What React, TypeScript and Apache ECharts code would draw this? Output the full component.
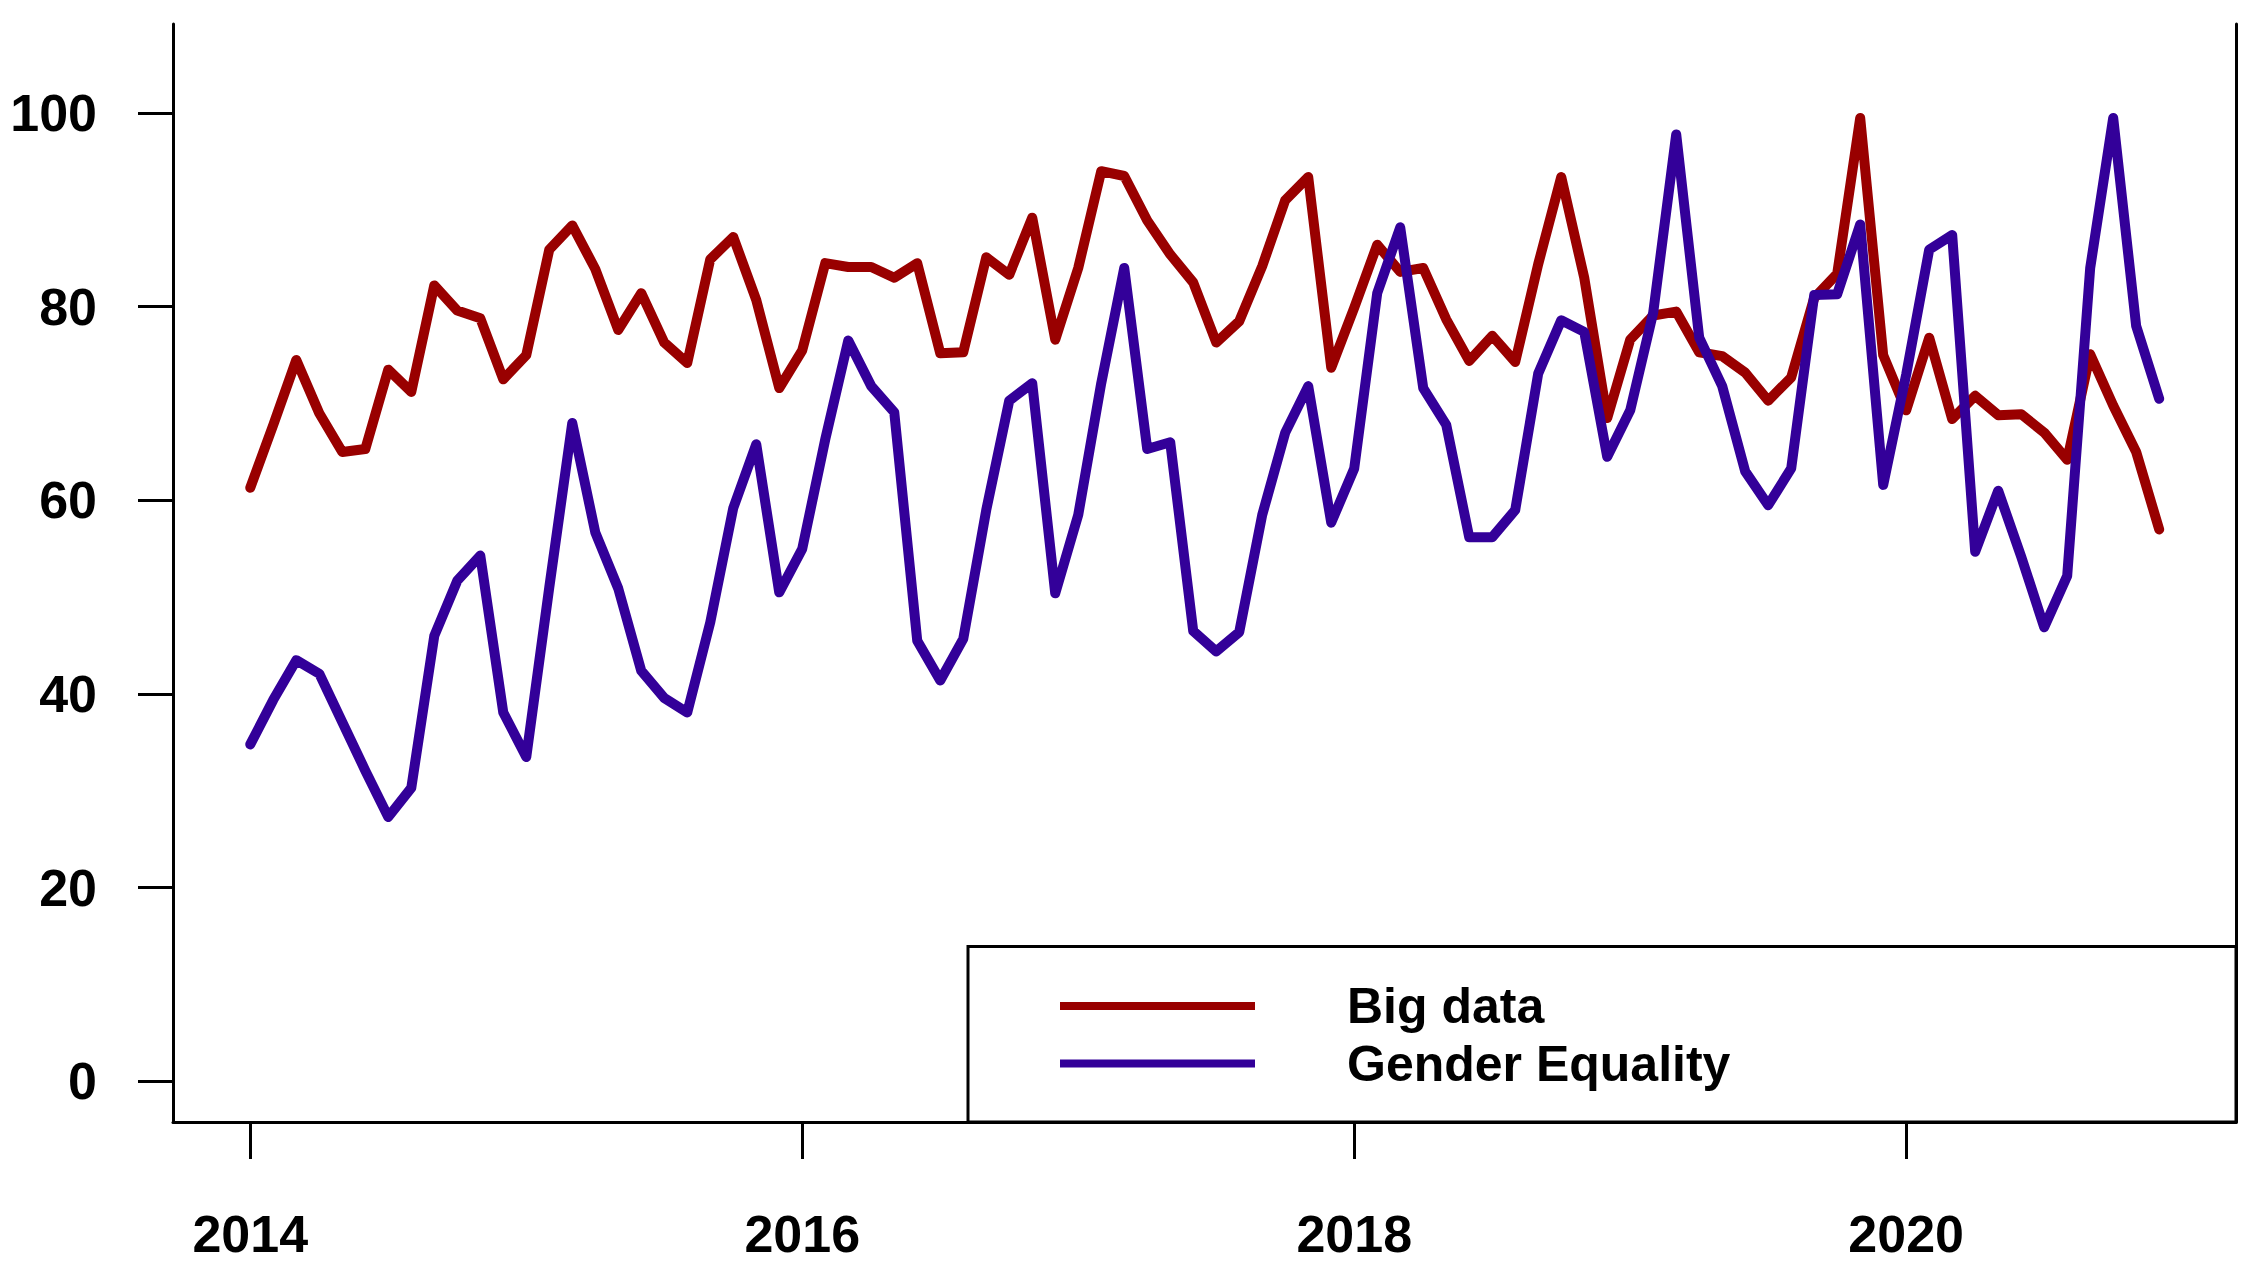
import { useEffect, useRef } from "react";
import * as echarts from "echarts";

const YEARS = [2014, 2015, 2016, 2017, 2018, 2019, 2020];
const SERIES_NAMES = ["Big data", "Gender Equality"];
const X_TICKS = [2014, 2016, 2018, 2020];
const Y_TICKS = [0, 20, 40, 60, 80, 100];

// monthly values, Jan..Dec for each year
const BIG_DATA = [
  61.3, 67.8, 74.5, 69.0, 65.0, 65.3, 73.5, 71.2, 82.2, 79.6, 78.8, 72.5,
  75.0, 85.9, 88.4, 83.9, 77.6, 81.4, 76.3, 74.2, 84.9, 87.2, 80.7, 71.6,
  75.5, 84.5, 84.1, 84.1, 83.0, 84.5, 75.2, 75.3, 85.1, 83.3, 89.2, 76.6,
  84.0, 94.0, 93.5, 88.9, 85.4, 82.5, 76.3, 78.5, 84.2, 91.0, 93.4, 73.7,
  79.9, 86.4, 83.6, 84.0, 78.7, 74.4, 77.0, 74.3, 84.4, 93.4, 83.0, 68.5,
  76.6, 79.1, 79.5, 75.3, 74.9, 73.2, 70.3, 72.7, 80.9, 83.4, 99.5, 75.0,
  69.3, 76.8, 68.4, 70.8, 68.8, 68.9, 67.0, 64.2, 75.1, 69.8, 65.0, 57.0,
];

const GENDER_EQUALITY = [
  34.8, 39.4, 43.5, 42.1, 37.1, 32.1, 27.3, 30.3, 46.0, 51.7, 54.3, 38.1,
  33.5, 51.0, 68.0, 56.7, 50.9, 42.4, 39.6, 38.1, 47.4, 59.2, 65.8, 50.5,
  55.0, 66.3, 76.5, 71.8, 69.1, 45.5, 41.4, 45.7, 59.0, 70.3, 72.1, 50.4,
  58.5, 72.1, 84.0, 65.3, 66.0, 46.5, 44.4, 46.4, 58.5, 67.0, 71.8, 57.7,
  63.3, 81.4, 88.2, 71.6, 67.8, 56.2, 56.2, 59.0, 73.1, 78.6, 77.4, 64.5,
  69.3, 79.4, 97.8, 76.8, 71.8, 63.0, 59.5, 63.3, 81.2, 81.3, 88.5, 61.6,
  73.0, 85.9, 87.4, 54.7, 61.0, 54.2, 46.9, 52.2, 84.0, 99.5, 78.0, 70.5,
];

const RED = "#990000";
const BLUE = "#330099";
const FONT = "'Liberation Sans', Arial, sans-serif";

export default function App() {
  const ref = useRef<HTMLDivElement>(null);

  useEffect(() => {
    document.body.style.margin = "0";
    if (!ref.current) return;
    const chart = echarts.init(ref.current, null, { renderer: "svg" });

    const times = YEARS.flatMap((y) =>
      Array.from({ length: 12 }, (_, m) => y + m / 12)
    );
    const bigPts = times.map((t, i) => [t, BIG_DATA[i]]);
    const genPts = times.map((t, i) => [t, GENDER_EQUALITY[i]]);

    const tickFont = {
      fontFamily: FONT,
      fontWeight: "bold" as const,
      fontSize: 52,
      color: "#000",
    };
    const axisLineStyle = { color: "#000", width: 3 };

    chart.setOption({
      animation: false,
      backgroundColor: "#fff",
      grid: {
        left: 173,
        right: 13,
        top: 24,
        bottom: 149,
        containLabel: false,
        outerBoundsMode: "none",
      },
      xAxis: {
        type: "value",
        min: 2013.72,
        max: 2021.195,
        axisLine: { show: true, onZero: false, lineStyle: axisLineStyle },
        axisTick: {
          show: true,
          length: 37,
          customValues: X_TICKS,
          lineStyle: axisLineStyle,
        },
        axisLabel: {
          ...tickFont,
          lineHeight: 52,
          margin: 86,
          customValues: X_TICKS,
          formatter: (v: number) => String(Math.round(v)),
        },
        splitLine: { show: false },
      },
      yAxis: [
        {
          type: "value",
          position: "left",
          min: -4.2,
          max: 109.2,
          axisLine: { show: true, onZero: false, lineStyle: axisLineStyle },
          axisTick: {
            show: true,
            length: 35,
            customValues: Y_TICKS,
            lineStyle: axisLineStyle,
          },
          axisLabel: {
            ...tickFont,
            margin: 76,
            customValues: Y_TICKS,
            formatter: (v: number) => String(Math.round(v)),
          },
          splitLine: { show: false },
        },
        {
          type: "value",
          position: "right",
          min: -4.2,
          max: 109.2,
          axisLine: { show: true, onZero: false, lineStyle: axisLineStyle },
          axisTick: { show: false },
          axisLabel: { show: false },
          splitLine: { show: false },
        },
      ],
      graphic: [
        {
          type: "rect",
          z: 3,
          shape: { x: 968, y: 946.5, width: 1268, height: 175.5 },
          style: { fill: "#fff", stroke: "#000", lineWidth: 3 },
        },
      ],
      legend: {
        show: true,
        z: 10,
        orient: "vertical",
        left: 968,
        top: 946.5,
        padding: [31.5, 0, 0, 92],
        itemWidth: 195,
        itemHeight: 8,
        itemGap: 1.5,
        icon: "rect",
        selectedMode: false,
        data: SERIES_NAMES,
        textStyle: {
          fontFamily: FONT,
          fontWeight: "bold",
          fontSize: 50,
          color: "#000",
          lineHeight: 38,
          padding: [18, 0, 0, 87],
        },
      },
      series: [
        {
          name: SERIES_NAMES[0],
          type: "line",
          data: bigPts,
          symbol: "none",
          showSymbol: false,
          lineStyle: { color: RED, width: 10, cap: "round", join: "round" },
          itemStyle: { color: RED },
          z: 2,
        },
        {
          name: SERIES_NAMES[1],
          type: "line",
          data: genPts,
          symbol: "none",
          showSymbol: false,
          lineStyle: { color: BLUE, width: 10, cap: "round", join: "round" },
          itemStyle: { color: BLUE },
          z: 2,
        },
      ],
    });

    return () => chart.dispose();
  }, []);

  return (
    <div
      ref={ref}
      style={{ position: "absolute", left: 0, top: 0, width: 2249, height: 1271 }}
    />
  );
}
